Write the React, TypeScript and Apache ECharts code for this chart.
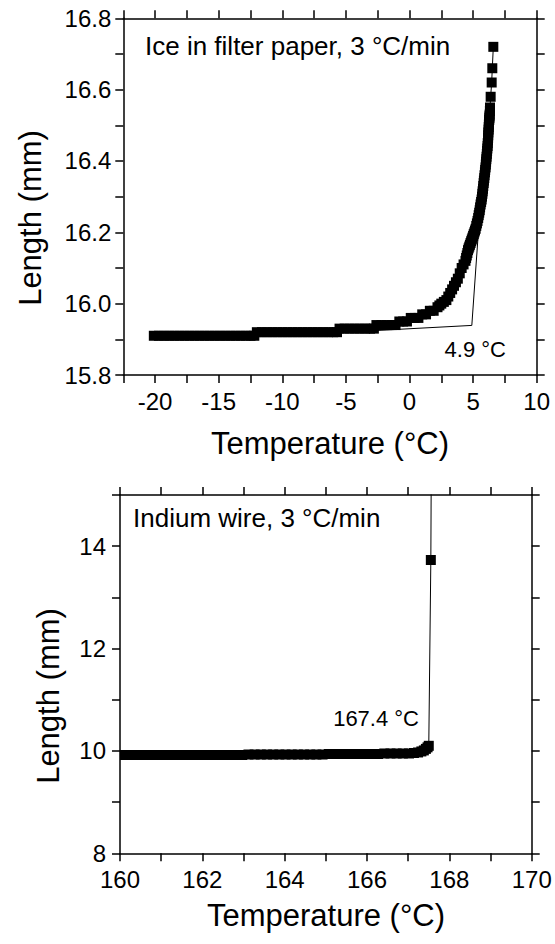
import React, { useEffect, useRef } from "react";
import * as echarts from "echarts";

// Ice in filter paper: [temperature °C, length mm]
const ICE = [
  [-20.1, 15.91], [-19.7, 15.91], [-19.3, 15.91], [-18.9, 15.91], [-18.5, 15.91], [-18.1, 15.91],
  [-17.7, 15.91], [-17.3, 15.91], [-16.9, 15.91], [-16.5, 15.91], [-16.1, 15.91], [-15.7, 15.91],
  [-15.3, 15.91], [-14.9, 15.91], [-14.5, 15.91], [-14.1, 15.91], [-13.7, 15.91], [-13.3, 15.91],
  [-12.9, 15.91], [-12.5, 15.91], [-12.2, 15.91],
  [-12.0, 15.92], [-11.6, 15.92], [-11.2, 15.92], [-10.8, 15.92], [-10.4, 15.92], [-10.0, 15.92],
  [-9.6, 15.92], [-9.2, 15.92], [-8.8, 15.92], [-8.4, 15.92], [-8.0, 15.92], [-7.6, 15.92],
  [-7.2, 15.92], [-6.8, 15.92], [-6.4, 15.92], [-6.0, 15.92], [-5.7, 15.92],
  [-5.5, 15.93], [-5.1, 15.93], [-4.7, 15.93], [-4.3, 15.93], [-3.9, 15.93], [-3.5, 15.93],
  [-3.1, 15.93], [-2.8, 15.93],
  [-2.6, 15.94], [-2.2, 15.94], [-1.8, 15.94], [-1.4, 15.94], [-1.1, 15.94],
  [-0.8, 15.95], [-0.5, 15.95], [-0.2, 15.95], [0.1, 15.96], [0.4, 15.96], [0.7, 15.96],
  [1.0, 15.97], [1.3, 15.97], [1.6, 15.98], [1.9, 15.98], [2.2, 15.99], [2.35, 15.995],
  [2.5, 16.0], [2.7, 16.005], [2.9, 16.01], [3.05, 16.02], [3.2, 16.03], [3.35, 16.04],
  [3.5, 16.05], [3.65, 16.06], [3.8, 16.07], [3.95, 16.085], [4.1, 16.1], [4.25, 16.11],
  [4.4, 16.12], [4.45, 16.128], [4.5, 16.135], [4.55, 16.142], [4.6, 16.15], [4.65, 16.155],
  [4.7, 16.16], [4.75, 16.165], [4.8, 16.17], [4.85, 16.175], [4.9, 16.18], [4.95, 16.185],
  [5.0, 16.19], [5.05, 16.195], [5.1, 16.2], [5.15, 16.205], [5.2, 16.21], [5.25, 16.218],
  [5.3, 16.225], [5.35, 16.232], [5.4, 16.24], [5.44, 16.248], [5.48, 16.255], [5.52, 16.262],
  [5.55, 16.27], [5.59, 16.278], [5.63, 16.285], [5.67, 16.292], [5.7, 16.3], [5.73, 16.308],
  [5.75, 16.315], [5.78, 16.322], [5.8, 16.33], [5.83, 16.338], [5.85, 16.345], [5.88, 16.352],
  [5.9, 16.36], [5.93, 16.368], [5.95, 16.375], [5.98, 16.382], [6.0, 16.39], [6.02, 16.398],
  [6.04, 16.405], [6.06, 16.412], [6.08, 16.42], [6.1, 16.428], [6.12, 16.435], [6.14, 16.442],
  [6.15, 16.45], [6.17, 16.458], [6.18, 16.465], [6.19, 16.472], [6.2, 16.48], [6.22, 16.488],
  [6.23, 16.495], [6.24, 16.502], [6.25, 16.51], [6.27, 16.515], [6.28, 16.52], [6.29, 16.525],
  [6.3, 16.53], [6.32, 16.54], [6.33, 16.55], [6.38, 16.58], [6.46, 16.62], [6.51, 16.66],
  [6.59, 16.72],
];
const ICE_BASELINE = [[-3.0, 15.924], [4.9, 15.939]];
const ICE_STEEP = [[4.9, 15.939], [5.6, 16.295]];

// Indium wire: [temperature °C, length mm]
const INDIUM = [
  [160.12, 9.92], [160.27, 9.92], [160.42, 9.92], [160.57, 9.92], [160.72, 9.92], [160.87, 9.92],
  [161.02, 9.92], [161.17, 9.92], [161.32, 9.92], [161.47, 9.92], [161.62, 9.92], [161.77, 9.92],
  [161.92, 9.92], [162.07, 9.92], [162.22, 9.92], [162.37, 9.92], [162.52, 9.92], [162.67, 9.92],
  [162.82, 9.92], [162.97, 9.92],
  [163.12, 9.93], [163.27, 9.93], [163.42, 9.93], [163.57, 9.93], [163.72, 9.93], [163.87, 9.93],
  [164.02, 9.93], [164.17, 9.93], [164.32, 9.93], [164.47, 9.93], [164.62, 9.93], [164.77, 9.93],
  [164.92, 9.93],
  [165.07, 9.94], [165.22, 9.94], [165.37, 9.94], [165.52, 9.94], [165.67, 9.94], [165.82, 9.94],
  [165.97, 9.94], [166.12, 9.94], [166.27, 9.94],
  [166.42, 9.95], [166.57, 9.95], [166.72, 9.95], [166.87, 9.95], [167.02, 9.95],
  [167.14, 9.96], [167.24, 9.97], [167.32, 9.99], [167.38, 10.01], [167.43, 10.04],
  [167.47, 10.07], [167.5, 10.1], [167.55, 13.73], [167.57, 17.2],
];

const ICE_X_LABELS = [-20, -15, -10, -5, 0, 5, 10];
const ICE_Y_LABELS = [15.8, 16.0, 16.2, 16.4, 16.6, 16.8];
const IN_X_LABELS = [160, 162, 164, 166, 168, 170];
const IN_Y_LABELS = [8, 10, 12, 14];

const FONT = "'Liberation Sans', Arial, Helvetica, sans-serif";

function hasLabel(list: number[], v: number) {
  return list.some((x) => Math.abs(x - v) < 1e-6);
}

function makeAxis(
  gridIndex: number,
  position: string,
  min: number,
  max: number,
  interval: number,
  labels: number[] | null,
  digits: number,
  margin: number
) {
  return {
    type: "value",
    gridIndex,
    position,
    min,
    max,
    interval,
    scale: true,
    axisLine: { show: true, onZero: false, lineStyle: { color: "#000", width: 1.5 } },
    axisTick: { show: true, inside: false, length: 8, lineStyle: { color: "#000", width: 1.5 } },
    splitLine: { show: false },
    minorTick: { show: false },
    axisLabel: {
      show: labels !== null,
      color: "#000",
      fontSize: 24,
      fontFamily: FONT,
      margin,
      showMinLabel: true,
      showMaxLabel: true,
      formatter: (v: number) =>
        labels && hasLabel(labels, v) ? v.toFixed(digits) : "",
    },
  };
}

const black = "#000";

function txt(text: string, x: number, y: number, size: number, align: string, rotation = 0) {
  return {
    type: "text",
    x,
    y,
    rotation,
    style: {
      text,
      font: `${size}px ${FONT}`,
      fill: black,
      textAlign: align,
      textVerticalAlign: "middle",
      verticalAlign: "middle",
    },
  };
}

export default function App() {
  const ref = useRef<HTMLDivElement>(null);
  useEffect(() => {
    if (!ref.current) return;
    const chart = echarts.init(ref.current, null, { renderer: "svg" });
    const option: any = {
      animation: false,
      backgroundColor: "#fff",
      grid: [
        { left: 123.3, top: 18.3, width: 413.4, height: 356.7, outerBoundsMode: "none", containLabel: false },
        { left: 120, top: 495, width: 411.7, height: 358.3, outerBoundsMode: "none", containLabel: false },
      ],
      xAxis: [
        makeAxis(0, "bottom", -22.5, 10, 2.5, ICE_X_LABELS, 0, 14),
        makeAxis(0, "top", -22.5, 10, 2.5, null, 0, 8),
        makeAxis(1, "bottom", 160, 170, 1, IN_X_LABELS, 0, 14),
        makeAxis(1, "top", 160, 170, 1, null, 0, 8),
      ],
      yAxis: [
        makeAxis(0, "left", 15.8, 16.8, 0.1, ICE_Y_LABELS, 1, 12),
        makeAxis(0, "right", 15.8, 16.8, 0.1, null, 1, 8),
        makeAxis(1, "left", 8, 15, 1, IN_Y_LABELS, 0, 14),
        makeAxis(1, "right", 8, 15, 1, null, 0, 8),
      ],
      series: [
        {
          type: "line",
          xAxisIndex: 0,
          yAxisIndex: 0,
          data: ICE_BASELINE,
          symbol: "none",
          lineStyle: { color: black, width: 1 },
          z: 1,
        },
        {
          type: "line",
          xAxisIndex: 0,
          yAxisIndex: 0,
          data: ICE_STEEP,
          symbol: "none",
          lineStyle: { color: black, width: 1 },
          z: 1,
        },
        {
          type: "line",
          xAxisIndex: 0,
          yAxisIndex: 0,
          data: ICE,
          symbol: "rect",
          symbolSize: 10,
          showSymbol: true,
          itemStyle: { color: black, borderWidth: 0 },
          lineStyle: { color: black, width: 1 },
          clip: true,
          z: 2,
        },
        {
          type: "line",
          xAxisIndex: 2,
          yAxisIndex: 2,
          data: INDIUM,
          symbol: "rect",
          symbolSize: 10,
          showSymbol: true,
          itemStyle: { color: black, borderWidth: 0 },
          lineStyle: { color: black, width: 1 },
          clip: true,
          z: 2,
        },
      ],
      graphic: [
        txt("Ice in filter paper, 3 °C/min", 145, 46, 26, "left"),
        txt("4.9 °C", 506, 349, 22, "right"),
        txt("Length (mm)", 30, 218, 31, "center", Math.PI / 2),
        txt("Temperature (°C)", 330, 443, 31, "center"),
        txt("Indium wire, 3 °C/min", 133, 518, 26, "left"),
        txt("167.4 °C", 419, 718, 22, "right"),
        txt("Length (mm)", 48, 696, 31, "center", Math.PI / 2),
        txt("Temperature (°C)", 326, 915, 31, "center"),
      ],
    };
    chart.setOption(option);
    return () => chart.dispose();
  }, []);
  return (
    <div
      ref={ref}
      style={{ position: "absolute", left: 0, top: 0, width: 555, height: 944, background: "#fff" }}
    />
  );
}
